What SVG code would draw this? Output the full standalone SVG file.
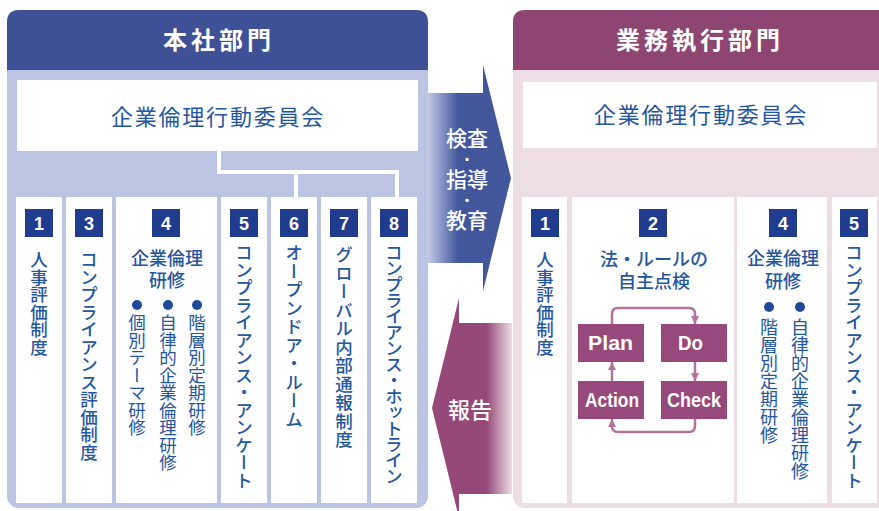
<svg xmlns="http://www.w3.org/2000/svg" width="879" height="511" viewBox="0 0 879 511">
<style>
.hdr{font-family:"Noto Sans CJK JP",sans-serif;font-size:24px;font-weight:700;fill:#fff;letter-spacing:4px;text-anchor:middle}
.cmt{font-family:"Noto Sans CJK JP",sans-serif;font-size:22px;font-weight:400;fill:#2556a0;letter-spacing:1.8px;text-anchor:middle}
.col{fill:#fff}
.badge{fill:#1f3c8e}
.num{font-family:"Liberation Sans",Arial,sans-serif;font-size:18px;font-weight:700;fill:#fff;text-anchor:middle}
.v{font-family:"Noto Sans CJK JP",sans-serif;font-size:17.5px;font-weight:500;fill:#2556a0;writing-mode:vertical-rl}
.vs{font-family:"Noto Sans CJK JP",sans-serif;font-size:17.5px;font-weight:400;fill:#2556a0;writing-mode:vertical-rl}
.h{font-family:"Noto Sans CJK JP",sans-serif;font-size:18px;font-weight:500;fill:#2556a0;text-anchor:middle}
.dot{fill:#1f4a9a}
.arrtxt{font-family:"Noto Sans CJK JP",sans-serif;font-size:21px;font-weight:500;fill:#fff;text-anchor:middle}
.pd{fill:#97497b}
.pdt{font-family:"Liberation Sans",Arial,sans-serif;font-size:20px;font-weight:700;fill:#fff}
.lnk{fill:none;stroke:#b4739a;stroke-width:2.5}
.wl{fill:none;stroke:#fff;stroke-width:4}
</style>
<defs>
<linearGradient id="gBlue" gradientUnits="userSpaceOnUse" x1="427" y1="0" x2="511" y2="0">
<stop offset="0" stop-color="#c5cde8"/>
<stop offset="0.37" stop-color="#42569c"/>
<stop offset="1" stop-color="#42569c"/>
</linearGradient>
<linearGradient id="gPink" gradientUnits="userSpaceOnUse" x1="432" y1="0" x2="512" y2="0">
<stop offset="0" stop-color="#964879"/>
<stop offset="0.68" stop-color="#964879"/>
<stop offset="1" stop-color="#ecdde3"/>
</linearGradient>
<marker id="ah" markerUnits="userSpaceOnUse" markerWidth="9" markerHeight="9" refX="8" refY="4" orient="auto">
<path d="M0,0 L8,4 L0,8 z" fill="#b4739a"/>
</marker>
</defs>

<rect width="879" height="511" fill="#fff"/>

<g id="panel-honsha">
<rect x="7" y="10" width="421" height="498" rx="12" fill="#bbc5e3"/>
<path d="M7,70 V22 Q7,10 19,10 H416 Q428,10 428,22 V70 Z" fill="#3f5196"/>
<text class="hdr" x="219" y="48.5">本社部門</text>
</g>

<g id="panel-gyomu">
<rect x="513" y="10" width="380" height="498" rx="12" fill="#ecdee4"/>
<path d="M513,70 V22 Q513,10 525,10 H893 V70 Z" fill="#8f4571"/>
<text class="hdr" x="700" y="48.5">業務執行部門</text>
</g>

<g id="committee-left">
<rect x="17" y="80" width="401" height="71" fill="#fff"/>
<text class="cmt" x="218" y="125">企業倫理行動委員会</text>
</g>

<g id="committee-right">
<rect x="523" y="82" width="354" height="66" fill="#fff"/>
<text class="cmt" x="701" y="123">企業倫理行動委員会</text>
</g>

<g id="L1">
<rect class="col" x="16" y="197" width="46" height="306"/>
<rect class="badge" x="25" y="209" width="28" height="28"/>
<text class="num" x="39" y="229.5">1</text>
<text class="v" x="39" y="251">人事評価制度</text>
</g>
<g id="L3">
<rect class="col" x="66" y="197" width="46" height="306"/>
<rect class="badge" x="75" y="209" width="28" height="28"/>
<text class="num" x="89" y="229.5">3</text>
<text class="v" x="89" y="251">コンプライアンス評価制度</text>
</g>
<g id="L4">
<rect class="col" x="116" y="197" width="101" height="306"/>
<rect class="badge" x="152" y="209" width="28" height="28"/>
<text class="num" x="166" y="229.5">4</text>
<text class="h" x="167" y="264.5">企業倫理</text>
<text class="h" x="167" y="286.5">研修</text>
<circle class="dot" cx="137" cy="305" r="5"/>
<circle class="dot" cx="168" cy="305" r="5"/>
<circle class="dot" cx="197" cy="305" r="5"/>
<text class="vs" x="137" y="314">個別テーマ研修</text>
<text class="vs" x="168" y="314">自律的企業倫理研修</text>
<text class="vs" x="197" y="314">階層別定期研修</text>
</g>
<g id="L5">
<rect class="col" x="221" y="197" width="46" height="306"/>
<rect class="badge" x="230" y="209" width="28" height="28"/>
<text class="num" x="244" y="229.5">5</text>
<text class="v" x="244" y="244">コンプライアンス・アンケート</text>
</g>
<g id="L6">
<rect class="col" x="271" y="197" width="46" height="306"/>
<rect class="badge" x="280" y="209" width="28" height="28"/>
<text class="num" x="294" y="229.5">6</text>
<text class="v" x="294" y="244" style="letter-spacing:1px">オープンドア・ルーム</text>
</g>
<g id="L7">
<rect class="col" x="321" y="197" width="46" height="306"/>
<rect class="badge" x="330" y="209" width="28" height="28"/>
<text class="num" x="344" y="229.5">7</text>
<text class="v" x="344" y="246" style="letter-spacing:1px">グローバル内部通報制度</text>
</g>
<g id="L8">
<rect class="col" x="371" y="197" width="46" height="306"/>
<rect class="badge" x="380" y="209" width="28" height="28"/>
<text class="num" x="394" y="229.5">8</text>
<text class="v" x="394" y="244" style="letter-spacing:-1.5px">コンプライアンス・ホットライン</text>
</g>

<g id="R1">
<rect class="col" x="522" y="197" width="45" height="306"/>
<rect class="badge" x="531" y="209" width="28" height="28"/>
<text class="num" x="545" y="229.5">1</text>
<text class="v" x="545" y="251">人事評価制度</text>
</g>
<g id="R2">
<rect class="col" x="572" y="197" width="162" height="306"/>
<rect class="badge" x="639" y="209" width="28" height="28"/>
<text class="num" x="653" y="229.5">2</text>
<text class="h" x="654" y="265.5">法・ルールの</text>
<text class="h" x="654" y="288">自主点検</text>
</g>
<g id="pdca-plan"><rect class="pd" x="578" y="324" width="66" height="38"/><text class="pdt" x="588" y="350" textLength="45" lengthAdjust="spacingAndGlyphs">Plan</text></g>
<g id="pdca-do"><rect class="pd" x="661" y="324" width="66" height="38"/><text class="pdt" x="678" y="350" textLength="25" lengthAdjust="spacingAndGlyphs">Do</text></g>
<g id="pdca-action"><rect class="pd" x="578" y="381" width="66" height="38"/><text class="pdt" x="585" y="407" textLength="54" lengthAdjust="spacingAndGlyphs">Action</text></g>
<g id="pdca-check"><rect class="pd" x="661" y="381" width="66" height="38"/><text class="pdt" x="667" y="407" textLength="54" lengthAdjust="spacingAndGlyphs">Check</text></g>
<g id="R4">
<rect class="col" x="737" y="197" width="90" height="306"/>
<rect class="badge" x="769" y="209" width="28" height="28"/>
<text class="num" x="783" y="229.5">4</text>
<text class="h" x="783" y="265">企業倫理</text>
<text class="h" x="783" y="288">研修</text>
<circle class="dot" cx="769" cy="307" r="5"/>
<circle class="dot" cx="800" cy="307" r="5"/>
<text class="vs" x="769" y="318" style="font-size:18px">階層別定期研修</text>
<text class="vs" x="800" y="318" style="font-size:18px">自律的企業倫理研修</text>
</g>
<g id="R5">
<rect class="col" x="832" y="197" width="45" height="306"/>
<rect class="badge" x="840" y="209" width="28" height="28"/>
<text class="num" x="854" y="229.5">5</text>
<text class="v" x="854" y="244">コンプライアンス・アンケート</text>
</g>

<g id="connectors">
<path class="wl" d="M219,151 V172 H397 V197 M296,172 V197"/>
<polygon points="427,93 483,93 483,65 511,178 483,291 483,263 427,263" fill="url(#gBlue)"/>
<text class="arrtxt" x="467" y="145.5">検査</text>
<text class="arrtxt" x="467" y="164" style="font-size:14px">・</text>
<text class="arrtxt" x="467" y="186.5">指導</text>
<text class="arrtxt" x="467" y="204.5" style="font-size:14px">・</text>
<text class="arrtxt" x="467" y="227.5">教育</text>
<polygon points="512,323 459,323 459,298 432,408 459,518 459,494 512,494" fill="url(#gPink)"/>
<text class="arrtxt" x="470" y="418" style="font-size:22px">報告</text>
<path class="lnk" d="M612,324 V314 Q612,308 618,308 H689 Q695,308 695,314 V324" marker-end="url(#ah)"/>
<path class="lnk" d="M695,362 V381" marker-end="url(#ah)"/>
<path class="lnk" d="M695,419 V426 Q695,432 689,432 H618 Q612,432 612,426 V419" marker-end="url(#ah)"/>
<path class="lnk" d="M612,381 V362" marker-end="url(#ah)"/>
</g>
</svg>
